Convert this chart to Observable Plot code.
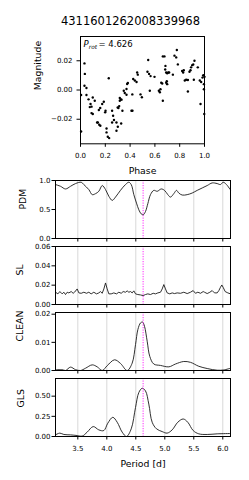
<!DOCTYPE html>
<html><head><meta charset="utf-8">
<script src="https://cdn.jsdelivr.net/npm/d3@7"></script>
<script src="https://cdn.jsdelivr.net/npm/@observablehq/plot@0.6"></script>
<style>
body{margin:0;background:#fff;}
#chart{position:relative;width:249px;height:480px;overflow:hidden;}
#chart svg{position:absolute;left:0;}
</style></head><body><div id="chart"></div>
<script>
const title = "4311601262008339968";
const prot = 4.626;

// folded light curve
const phase = [
0.032,0.035,0.032,0.048,0.005,0.048,0.065,0.081,0.089,0.099,
0.115,0.148,0.159,0.175,0.188,0.140,0.151,0.160,0.202,0.228,
0.210,0.255,0.263,0.270,0.317,0.325,0.300,0.312,0.349,0.371,
0.338,0.376,0.382,0.425,0.438,0.452,0.418,0.411,0.457,0.462,
0.484,0.495,0.546,0.540,0.553,0.565,0.597,0.559,0.632,0.640,
0.645,0.651,0.659,0.664,0.677,0.685,0.683,0.664,0.691,0.699,
0.707,0.715,0.696,0.691,0.699,0.745,0.758,0.772,0.777,0.785,
0.820,0.828,0.833,0.841,0.852,0.866,0.866,0.879,0.887,0.892,
0.901,0.909,0.919,0.914,0.946,0.962,0.973,0.984,0.989,0.995,
1.000,0.995,0.995,0.968,0.998,0.005,0.134,0.210,0.220,0.231,
0.255,0.290,0.301,0.290,0.328,0.089,0.099,0.199,0.306,0.317,
0.331,0.357,0.371,0.419,0.075];
const mag = [
0.0182,0.0110,0.0029,0.0014,-0.0034,-0.0034,-0.0064,-0.0096,-0.0114,-0.0051,
-0.0073,-0.0137,-0.0123,-0.0096,-0.0080,-0.0222,-0.0238,-0.0245,-0.0142,0.0080,
-0.0263,-0.0142,-0.0176,-0.0205,-0.0073,-0.0065,-0.0120,-0.0110,-0.0005,0.0007,
-0.0142,0.0041,0.0048,0.0075,0.0065,0.0055,-0.0030,-0.0142,0.0120,0.0105,
-0.0030,-0.0050,0.0205,0.0125,0.0110,0.0095,0.0090,-0.0005,-0.0005,-0.0015,
0.0005,0.0050,0.0045,0.0230,0.0230,0.0165,0.0140,-0.0073,0.0120,0.0115,
0.0120,0.0120,0.0060,0.0050,0.0040,0.0105,0.0235,0.0223,0.0274,0.0175,
0.0130,0.0120,0.0135,0.0065,0.0070,0.0068,-0.0010,0.0125,0.0135,0.0155,
0.0170,0.0175,0.0200,0.0070,0.0155,0.0065,0.0055,0.0085,0.0100,0.0102,
0.0090,0.0040,0.0005,-0.0096,-0.0164,-0.0284,-0.0222,-0.0290,-0.0320,-0.0329,
-0.0222,-0.0222,-0.0251,-0.0279,-0.0229,-0.0158,-0.0164,-0.0153,-0.0123,-0.0055,
-0.0066,-0.0021,-0.0032,-0.0142,-0.0117];
const phaseTicks = [0, 0.2, 0.4, 0.6, 0.8, 1.0];
const magTicks = [-0.02, 0, 0.02];

// periodograms
const periodTicks = [3.5, 4.0, 4.5, 5.0, 5.5, 6.0];
const periodDomain = [3.115, 6.133];

const pdmPeriod = [3.116,3.202,3.288,3.374,3.46,3.559,3.603,3.69,3.748,3.805,3.862,3.921,3.978,4.036,4.093,4.15,4.236,4.322,4.379,4.421,4.466,4.512,4.552,4.593,4.628,4.667,4.707,4.753,4.81,4.869,4.938,4.995,5.052,5.098,5.155,5.202,5.241,5.3,5.386,5.472,5.559,5.645,5.731,5.817,5.903,5.96,6.007,6.064,6.121,6.133];
const pdmPower = [0.93,0.90,0.854,0.90,0.947,0.97,0.93,0.843,0.756,0.773,0.814,0.913,0.843,0.726,0.657,0.714,0.831,0.93,0.97,0.93,0.756,0.61,0.495,0.425,0.408,0.465,0.60,0.756,0.83,0.814,0.854,0.83,0.756,0.714,0.773,0.83,0.784,0.749,0.756,0.784,0.83,0.871,0.913,0.958,0.947,0.93,0.97,0.93,0.854,0.84];

const slPeriod = [3.116,3.156,3.190,3.230,3.259,3.288,3.317,3.345,3.386,3.420,3.443,3.489,3.518,3.558,3.604,3.650,3.690,3.730,3.776,3.822,3.863,3.891,3.920,3.949,3.978,4.006,4.035,4.075,4.121,4.167,4.207,4.248,4.282,4.322,4.351,4.380,4.409,4.437,4.466,4.495,4.535,4.581,4.627,4.667,4.707,4.753,4.800,4.840,4.880,4.926,4.955,4.983,5.012,5.041,5.087,5.127,5.167,5.213,5.271,5.328,5.386,5.443,5.489,5.529,5.570,5.616,5.662,5.685,5.731,5.777,5.817,5.857,5.903,5.932,5.960,5.983,6.006,6.041,6.087,6.133];
const slPower = [0.0127,0.0110,0.0134,0.0110,0.0127,0.0103,0.0127,0.0120,0.0134,0.0116,0.0127,0.0161,0.0120,0.0116,0.0127,0.0116,0.0127,0.0110,0.0127,0.0110,0.0120,0.0134,0.0116,0.0161,0.0223,0.0161,0.0110,0.0110,0.0120,0.0110,0.0127,0.0116,0.0134,0.0127,0.0141,0.0127,0.0134,0.0120,0.0141,0.0110,0.0103,0.0099,0.0092,0.0103,0.0110,0.0103,0.0116,0.0110,0.0120,0.0127,0.0161,0.0206,0.0161,0.0120,0.0110,0.0120,0.0113,0.0120,0.0116,0.0127,0.0113,0.0127,0.0144,0.0116,0.0127,0.0116,0.0134,0.0127,0.0113,0.0127,0.0144,0.0120,0.0120,0.0144,0.0178,0.0202,0.0178,0.0134,0.0120,0.0110];

const cleanPeriod = [3.116,3.23,3.288,3.374,3.46,3.546,3.632,3.748,3.834,3.92,4.006,4.133,4.236,4.351,4.437,4.495,4.535,4.581,4.616,4.650,4.696,4.741,4.81,4.926,5.07,5.184,5.327,5.443,5.586,5.731,5.903,6.017,6.133];
const cleanPower = [0.0002,0.0003,0.0000,0.0012,0.0003,0.0000,0.0008,0.0020,0.0013,0.0000,0.0017,0.0038,0.0025,0.0000,0.0026,0.0092,0.0145,0.0169,0.0172,0.0157,0.0104,0.0050,0.0023,0.0018,0.0013,0.0023,0.0032,0.0029,0.0015,0.0007,0.0001,0.0002,0.0008];

const glsPeriod = [3.116,3.19,3.259,3.374,3.489,3.575,3.661,3.765,3.862,3.949,4.017,4.103,4.179,4.265,4.34,4.421,4.495,4.552,4.610,4.667,4.724,4.782,4.857,4.955,5.04,5.127,5.224,5.317,5.396,5.489,5.586,5.731,5.903,6.133];
const glsPower = [0.021,0.042,0.025,0.020,0.012,0.005,0.054,0.123,0.082,0.074,0.165,0.238,0.177,0.054,0.000,0.095,0.360,0.545,0.598,0.565,0.402,0.177,0.095,0.061,0.042,0.082,0.177,0.217,0.177,0.074,0.033,0.025,0.033,0.037];

const FONT = "DejaVu Sans";
const baseStyle = {fontFamily: FONT, fontSize: "7px", color: "#000", background: "none", overflow: "visible"};
const chart = document.getElementById("chart");
const minusFmt = n => d => (d < 0 ? "\u2212" : "") + Math.abs(d).toFixed(n);

// scatter panel
const sc = Plot.plot({
  width: 249, height: 183,
  marginLeft: 80, marginRight: 45, marginTop: 36, marginBottom: 39.7,
  style: baseStyle,
  x: {domain: [0, 1]},
  y: {domain: [-0.0368, 0.0366]},
  marks: [
    Plot.dot(mag, {x: phase, y: mag, r: 1.2, fill: "#000", stroke: null}),
    Plot.axisX(phaseTicks, {tickSize: 3.5, tickPadding: 6, tickFormat: d3.format(".1f"), label: null}),
    Plot.axisY(magTicks, {tickSize: 3.5, tickPadding: 4.5, tickFormat: minusFmt(2), label: null}),
    Plot.frame({stroke: "#000", strokeWidth: 1}),
    Plot.text(["P"], {frameAnchor: "top-left", dx: 3, dy: 10, lineAnchor: "bottom", fontSize: 8.5, fontStyle: "italic"}),
    Plot.text(["rot"], {frameAnchor: "top-left", dx: 8.3, dy: 12, lineAnchor: "bottom", fontSize: 5.8, fontStyle: "italic"}),
    Plot.text(["= " + prot.toFixed(3)], {frameAnchor: "top-left", dx: 18, dy: 10, lineAnchor: "bottom", fontSize: 8.5}),
    Plot.text([title], {frameAnchor: "top", dx: -12, dy: -15.3, fontSize: 11.5, lineAnchor: "middle"}),
    Plot.text(["Phase"], {frameAnchor: "bottom", dy: 27.4, fontSize: 9.3, lineAnchor: "middle"}),
    Plot.text(["Magnitude"], {frameAnchor: "left", dx: -42, rotate: -90, fontSize: 9.3, lineAnchor: "middle"})
  ]
});
sc.style.top = "0px";
chart.appendChild(sc);

function panel({top, xs, ys, yDomain, yTicks, yFmt, label, labelDx, curve, bottom}) {
  const mt = 4, mb = bottom ? 44 : 6, h = 58;
  const marks = [
    Plot.gridX(periodTicks, {stroke: "#d4d4d4", strokeOpacity: 1, strokeWidth: 0.9}),
    Plot.line(ys, {x: xs, y: ys, stroke: "#1a1a1a", strokeWidth: 0.9, curve}),
    Plot.ruleX([prot], {stroke: "#f0f", strokeOpacity: 0.85, strokeWidth: 1, strokeDasharray: "1.2,1.3"}),
    Plot.axisY(yTicks, {tickSize: 3.5, tickPadding: 1.5, tickFormat: yFmt, label: null}),
    Plot.axisX(periodTicks, {tickSize: 3.5, tickPadding: 6.5, tickFormat: bottom ? d3.format(".1f") : () => "", label: null}),
    Plot.frame({stroke: "#000", strokeWidth: 1}),
    Plot.text([label], {frameAnchor: "left", dx: labelDx, rotate: -90, fontSize: 9.3, lineAnchor: "middle"})
  ];
  if (bottom) marks.push(Plot.text(["Period [d]"], {frameAnchor: "bottom", dy: 27.5, fontSize: 9.3, lineAnchor: "middle"}));
  const svg = Plot.plot({
    width: 249, height: h + mt + mb,
    marginLeft: 55, marginRight: 19, marginTop: mt, marginBottom: mb,
    style: baseStyle,
    x: {domain: periodDomain},
    y: {domain: yDomain},
    marks
  });
  svg.style.top = (top - mt) + "px";
  chart.appendChild(svg);
}

panel({top: 180, xs: pdmPeriod, ys: pdmPower, yDomain: [0, 1], yTicks: [0, 0.5, 1], yFmt: minusFmt(1), label: "PDM", labelDx: -32, curve: "catmull-rom"});
panel({top: 246, xs: slPeriod, ys: slPower, yDomain: [0, 0.06], yTicks: [0, 0.02, 0.04, 0.06], yFmt: minusFmt(2), label: "SL", labelDx: -35, curve: "linear"});
panel({top: 312, xs: cleanPeriod, ys: cleanPower, yDomain: [0, 0.0206], yTicks: [0, 0.01, 0.02], yFmt: minusFmt(2), label: "CLEAN", labelDx: -35, curve: "catmull-rom"});
panel({top: 378, xs: glsPeriod, ys: glsPower, yDomain: [0, 0.719], yTicks: [0, 0.25, 0.5], yFmt: minusFmt(2), label: "GLS", labelDx: -34.3, curve: "catmull-rom", bottom: true});
</script>
</body></html>
